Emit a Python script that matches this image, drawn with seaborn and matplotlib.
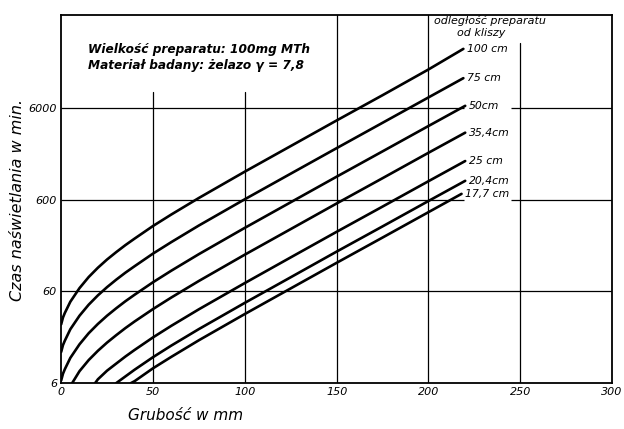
import pandas as pd
import seaborn as sns
import matplotlib
matplotlib.use("Agg")
import matplotlib.pyplot as plt

# film distances (curve labels)
distances = ["100 cm", "75 cm", "50cm", "35,4cm", "25 cm", "20,4cm", "17,7 cm"]

# thickness in mm / exposure time in min per curve
x_100 = [0, 1, 2, 5, 10, 15, 20, 25, 30, 35, 40, 50, 60, 75, 100, 125, 150, 175, 200, 219]
t_100 = [26.2, 31.2, 34.9, 46.3, 65.2, 86.1, 108.7, 133.7, 161, 192, 226, 310, 414, 627,
         1214, 2308, 4390, 8280, 15800, 26500]

x_75 = [0, 1, 2, 5, 10, 15, 20, 25, 30, 35, 40, 50, 60, 75, 100, 125, 150, 175, 200, 219]
t_75 = [13.1, 15.6, 17.4, 23.2, 32.6, 43, 54.3, 66.8, 80.6, 96.1, 113, 155, 207, 314,
        607, 1154, 2190, 4140, 7830, 12700]

x_50 = [0, 1, 2, 5, 10, 15, 20, 25, 30, 35, 40, 50, 60, 75, 100, 125, 150, 175, 200, 220]
t_50 = [6.4, 7.6, 8.5, 11.3, 15.9, 21, 26.5, 32.6, 39.3, 46.9, 55.2, 75.5, 101, 153,
        296, 563, 1070, 2020, 3820, 6340]

x_354 = [6, 10, 15, 20, 25, 30, 35, 40, 50, 60, 75, 100, 125, 150, 175, 200, 220]
t_354 = [6, 8.1, 10.7, 13.5, 16.6, 20, 23.9, 28.2, 38.5, 51.5, 78, 151, 287, 546,
         1030, 1950, 3230]

x_25 = [18.5, 20, 25, 30, 35, 40, 50, 60, 75, 100, 125, 150, 175, 200, 220]
t_25 = [6, 6.6, 8.2, 9.8, 11.7, 13.8, 18.9, 25.3, 38.3, 74, 141, 268, 505, 955, 1585]

x_204 = [30, 35, 40, 50, 60, 75, 100, 125, 150, 175, 200, 220]
t_204 = [6, 7.1, 8.4, 11.5, 15.4, 23.3, 45, 85.6, 163, 307, 581, 964]

x_177 = [38, 40, 50, 60, 75, 100, 125, 150, 175, 200, 218]
t_177 = [6, 6.3, 8.7, 11.6, 17.6, 34, 64.7, 123, 232, 439, 695]

x_ticks = [0, 50, 100, 150, 200, 250, 300]
y_ticks = [6, 60, 600, 6000]
y_ticklabels = ["6", "60", "600", "6000"]

all_x = [x_100, x_75, x_50, x_354, x_25, x_204, x_177]
all_t = [t_100, t_75, t_50, t_354, t_25, t_204, t_177]

frames = []
for name, xs, ts in zip(distances, all_x, all_t):
    frames.append(pd.DataFrame({"grubosc": xs, "czas": ts, "odleglosc": name}))
df = pd.concat(frames, ignore_index=True)

sns.set_style("white")
plt.rcParams["font.family"] = ["DejaVu Sans"]
plt.rcParams["text.color"] = "black"
plt.rcParams["axes.labelcolor"] = "black"
plt.rcParams["xtick.color"] = "black"
plt.rcParams["ytick.color"] = "black"

fig = plt.figure(figsize=(6.24, 4.29), dpi=100)
ax = fig.add_axes([0.098, 0.107, 0.883, 0.858])

# grid, broken where the text sits
for v in [50, 100]:
    ax.axvline(v, ymax=0.79, color="black", lw=0.9, zorder=1)
for v in [150, 200]:
    ax.axvline(v, color="black", lw=0.9, zorder=1)
ax.axvline(250, ymax=0.925, color="black", lw=0.9, zorder=1)
ax.axhline(60, color="black", lw=0.9, zorder=1)
for h in [600, 6000]:
    ax.hlines(h, 0, 219.5, color="black", lw=0.9, zorder=1)
    ax.hlines(h, 245, 300, color="black", lw=0.9, zorder=1)

sns.lineplot(data=df, x="grubosc", y="czas", hue="odleglosc",
             palette=["black"] * len(distances), linewidth=1.9,
             legend=False, sort=False, estimator=None, ax=ax, zorder=3)

ax.set_yscale("log")
ax.set_xlim(0, 300)
ax.set_ylim(6, 62000)
ax.set_xticks(x_ticks)
ax.set_xticklabels([str(t) for t in x_ticks], fontsize=8, style="italic")
ax.set_yticks(y_ticks)
ax.set_yticklabels(y_ticklabels, fontsize=8, style="italic")
ax.minorticks_off()
ax.tick_params(length=0, pad=3)

for s in ax.spines.values():
    s.set_visible(True)
    s.set_color("black")
    s.set_linewidth(1.3)

# curve labels at the end of each line
for name, xs, ts in zip(distances, all_x, all_t):
    ax.text(xs[-1] + 2, ts[-1], name, fontsize=7.8, style="italic",
            ha="left", va="center", zorder=4)

ax.text(0.779, 0.984, "odległość preparatu", transform=ax.transAxes,
        fontsize=8, style="italic", ha="center", va="center")
ax.text(0.762, 0.952, "od kliszy", transform=ax.transAxes,
        fontsize=8, style="italic", ha="center", va="center")

ax.text(0.049, 0.905, "Wielkość preparatu: 100mg MTh", transform=ax.transAxes,
        fontsize=8.7, style="italic", fontweight="bold", ha="left", va="center")
ax.text(0.049, 0.862, "Materiał badany: żelazo γ = 7,8", transform=ax.transAxes,
        fontsize=8.7, style="italic", fontweight="bold", ha="left", va="center")

ax.set_xlabel("Grubość w mm", fontsize=11, style="italic")
ax.xaxis.set_label_coords(0.225, -0.068)
ax.set_ylabel("Czas naświetlania w min.", fontsize=11.5, style="italic")
ax.yaxis.set_label_coords(-0.065, 0.497)

fig.savefig("out.png", dpi=100)
